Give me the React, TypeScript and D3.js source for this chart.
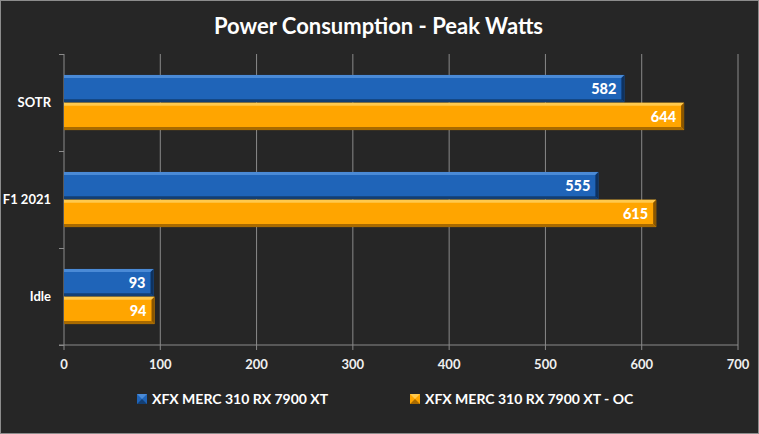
import React from 'react';
import * as d3 from 'd3';

const categories = ['SOTR', 'F1 2021', 'Idle'];
const seriesNames = ['XFX MERC 310 RX 7900 XT', 'XFX MERC 310 RX 7900 XT - OC'];
const stockWatts = [582, 555, 93];
const ocWatts = [644, 615, 94];
const xTicks = [0, 100, 200, 300, 400, 500, 600, 700];

const W = 759;
const H = 434;
const margin = { top: 54, right: 21, bottom: 89, left: 64 };
const FONT = 'Lato, "Open Sans", sans-serif';

// main / light edge / dark edge / end cap
const palettes = [
  { main: '#1f64b8', light: '#4a8ad6', dark: '#133f74', end: '#0e3260' },
  { main: '#ffa500', light: '#ffc94d', dark: '#a86a00', end: '#8a5600' },
];

const App: React.FC = () => {
  const plotW = W - margin.left - margin.right;
  const plotH = H - margin.top - margin.bottom;

  const x = d3.scaleLinear().domain([0, 700]).range([0, plotW]);
  const y = d3.scaleBand<string>()
    .domain(categories)
    .range([0, plotH])
    .paddingInner(0.42)
    .paddingOuter(0.21);
  const sub = d3.scaleBand<number>()
    .domain([0, 1])
    .range([0, y.bandwidth()])
    .padding(0.02);

  const series = [stockWatts, ocWatts];
  const step = y.step();
  const bevel = 3;

  const bar = (v: number, cat: string, si: number) => {
    const p = palettes[si];
    const x0 = x(0);
    const x1 = x(v);
    const y0 = (y(cat) as number) + (sub(si) as number);
    const h = sub.bandwidth();
    const y1 = y0 + h;
    return (
      <g key={`${cat}-${si}`}>
        <rect x={x0} y={y0} width={x1 - x0} height={h} fill={p.main} />
        <polygon
          points={`${x0},${y0} ${x1},${y0} ${x1 - bevel},${y0 + bevel} ${x0},${y0 + bevel}`}
          fill={p.light}
        />
        <polygon
          points={`${x0},${y1} ${x1},${y1} ${x1 - bevel},${y1 - bevel} ${x0},${y1 - bevel}`}
          fill={p.dark}
        />
        <polygon
          points={`${x1 - bevel},${y0 + bevel} ${x1},${y0} ${x1},${y1} ${x1 - bevel},${y1 - bevel}`}
          fill={p.end}
        />
        <text
          x={x1 - 8}
          y={y0 + h / 2}
          dy="0.37em"
          textAnchor="end"
          fill="#ffffff"
          fontFamily={FONT}
          fontWeight={900}
          fontSize={14.5}
        >
          {v}
        </text>
      </g>
    );
  };

  return (
    <svg width={W} height={H} style={{ position: 'absolute', left: 0, top: 0 }}>
      <rect x={0.5} y={0.5} width={W - 1} height={H - 1} fill="#262626" stroke="#8c8c8c" />
      <text
        x={W / 2 - 1}
        y={34}
        textAnchor="middle"
        fill="#ffffff"
        fontFamily={FONT}
        fontWeight={700}
        fontSize={22}
      >
        Power Consumption - Peak Watts
      </text>
      <g transform={`translate(${margin.left},${margin.top})`}>
        {xTicks.map(t => (
          <line key={t} x1={x(t)} x2={x(t)} y1={0} y2={plotH + 5} stroke="#8a8a8a" strokeWidth={1} />
        ))}
        <line x1={-5} x2={plotW} y1={plotH} y2={plotH} stroke="#8a8a8a" />
        {[0, 1, 2, 3].map(i => (
          <line key={i} x1={-5} x2={0} y1={i * step + 0.5} y2={i * step + 0.5} stroke="#8a8a8a" />
        ))}
        {categories.map((c, ci) => series.map((s, si) => bar(s[ci], c, si)))}
        {categories.map(c => (
          <text
            key={c}
            x={-13}
            y={(y(c) as number) + y.bandwidth() / 2}
            dy="0.36em"
            textAnchor="end"
            fill="#ffffff"
            fontFamily={FONT}
            fontWeight={700}
            fontSize={13}
          >
            {c}
          </text>
        ))}
        {xTicks.map(t => (
          <text
            key={t}
            x={x(t)}
            y={plotH + 24}
            textAnchor="middle"
            fill="#f0f0f0"
            fontFamily={FONT}
            fontWeight={700}
            fontSize={13}
          >
            {t}
          </text>
        ))}
      </g>
      {seriesNames.map((n, i) => {
        const lx = i === 0 ? 137 : 410;
        const p = palettes[i];
        return (
          <g key={n} transform={`translate(${lx},394)`}>
            <rect x={0} y={0} width={10} height={10} fill={p.main} />
            <polygon points="0,0 10,0 5,5" fill={p.light} />
            <polygon points="0,10 10,10 5,5" fill={p.dark} />
            <text x={15} y={10} fill="#ffffff" fontFamily={FONT} fontWeight={700} fontSize={14}>
              {n}
            </text>
          </g>
        );
      })}
    </svg>
  );
};

export default App;
